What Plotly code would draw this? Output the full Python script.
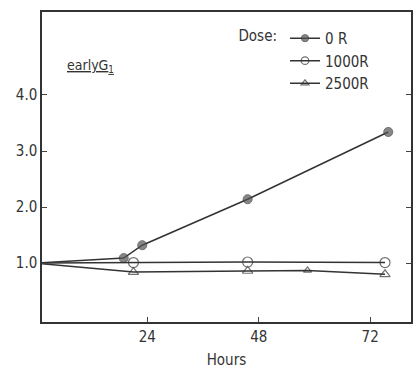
import plotly.graph_objects as go

hours_0R = [0, 18.9, 22.9, 45.6, 75.9]
vals_0R = [1.0, 1.09, 1.32, 2.14, 3.34]
hours_1000R = [0, 21, 45.6, 75.2]
vals_1000R = [1.0, 1.01, 1.02, 1.01]
hours_2500R = [0, 21, 45.6, 58.5, 75.2]
vals_2500R = [1.0, 0.84, 0.86, 0.87, 0.8]
y_ticks = [1.0, 2.0, 3.0, 4.0]
y_tick_text = ["1.0", "2.0", "3.0", "4.0"]
x_ticks = [24, 48, 72]

FONT = "Liberation Sans Narrow, DejaVu Sans Condensed, Arial Narrow, sans-serif"
INK = "#333333"

fig = go.Figure()
fig.add_trace(go.Scatter(
    x=hours_0R, y=vals_0R, name="0 R", mode="lines+markers",
    line=dict(color=INK, width=1.5),
    marker=dict(symbol="circle", size=[0, 9, 9, 9, 9], color="#555555",
                line=dict(color=INK, width=1)),
))
fig.add_trace(go.Scatter(
    x=hours_1000R, y=vals_1000R, name="1000R", mode="lines+markers",
    line=dict(color=INK, width=1.5),
    marker=dict(symbol="circle-open", size=[0, 10, 10, 10], color=INK,
                line=dict(width=1.2)),
))
fig.add_trace(go.Scatter(
    x=hours_2500R, y=vals_2500R, name="2500R", mode="lines+markers",
    line=dict(color=INK, width=1.5),
    marker=dict(symbol="triangle-up-open", size=[0, 9, 9, 7, 9], color=INK,
                line=dict(width=1.2)),
))

fig.update_layout(
    width=416, height=370,
    margin=dict(l=42, r=3, t=12, b=48),
    paper_bgcolor="white", plot_bgcolor="white",
    font=dict(family=FONT, size=15, color=INK),
    showlegend=True,
    legend=dict(
        x=0.527, y=0.968, xanchor="left", yanchor="top",
        bgcolor="rgba(0,0,0,0)",
        title=dict(text="Dose:", side="left", font=dict(size=15)),
        font=dict(size=15), tracegroupgap=0, itemwidth=30,
    ),
    xaxis=dict(
        range=[1.3, 80.8], tickvals=x_ticks, ticks="inside", ticklen=5,
        showgrid=False, zeroline=False, showline=True, linecolor=INK,
        linewidth=1.5, mirror=True,
        title=dict(text="Hours", font=dict(size=15), standoff=10),
        tickfont=dict(size=15),
    ),
    yaxis=dict(
        range=[-0.05, 5.48], tickvals=y_ticks, ticktext=y_tick_text,
        ticks="inside", ticklen=5,
        showgrid=False, zeroline=False, showline=True, linecolor=INK,
        linewidth=1.5, mirror="ticks", tickfont=dict(size=15),
    ),
    annotations=[dict(
        text="<u>earlyG<sub>1</sub></u>", x=0.062, y=0.825, xref="paper",
        yref="paper", xanchor="left", yanchor="middle", showarrow=False,
        font=dict(size=14, color=INK),
    )],
)

fig.write_html(
    "out.html",
    config={"displayModeBar": False},
    post_script="document.body.style.margin='0';document.body.style.overflow='hidden';",
)
